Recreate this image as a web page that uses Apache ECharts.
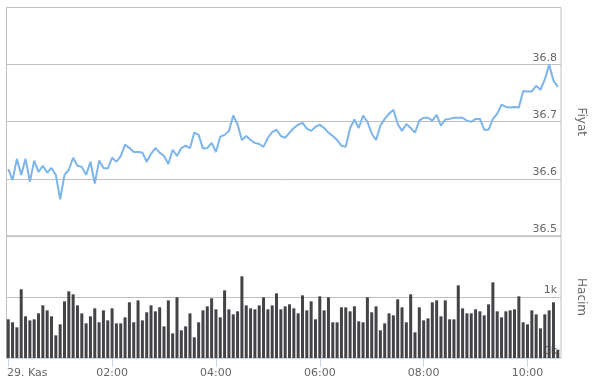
<!DOCTYPE html>
<html>
<head>
<meta charset="utf-8">
<script src="https://cdn.jsdelivr.net/npm/echarts@6/dist/echarts.min.js"></script>
<style>
html,body{margin:0;padding:0;background:#fff;}
#chart{width:595px;height:381px;}
</style>
</head>
<body>
<div id="chart"></div>
<script>
// Time stamps (29. Kas, 5-minute bars)
const times = [
"00:00","00:05","00:10","00:15","00:20","00:25","00:30","00:35","00:40","00:45","00:50","00:55",
"01:00","01:05","01:10","01:15","01:20","01:25","01:30","01:35","01:40","01:45","01:50","01:55",
"02:00","02:05","02:10","02:15","02:20","02:25","02:30","02:35","02:40","02:45","02:50","02:55",
"03:00","03:05","03:10","03:15","03:20","03:25","03:30","03:35","03:40","03:45","03:50","03:55",
"04:00","04:05","04:10","04:15","04:20","04:25","04:30","04:35","04:40","04:45","04:50","04:55",
"05:00","05:05","05:10","05:15","05:20","05:25","05:30","05:35","05:40","05:45","05:50","05:55",
"06:00","06:05","06:10","06:15","06:20","06:25","06:30","06:35","06:40","06:45","06:50","06:55",
"07:00","07:05","07:10","07:15","07:20","07:25","07:30","07:35","07:40","07:45","07:50","07:55",
"08:00","08:05","08:10","08:15","08:20","08:25","08:30","08:35","08:40","08:45","08:50","08:55",
"09:00","09:05","09:10","09:15","09:20","09:25","09:30","09:35","09:40","09:45","09:50","09:55",
"10:00","10:05","10:10","10:15","10:20","10:25","10:30","10:35"
];

// Fiyat (price)
const price = [
36.617,36.598,36.635,36.607,36.635,36.595,36.632,36.612,36.623,36.611,36.619,36.607,36.564,36.607,36.616,36.637,36.623,36.621,36.607,36.630,36.592,36.632,
36.619,36.618,36.637,36.630,36.640,36.660,36.654,36.647,36.647,36.646,36.630,36.644,36.654,36.646,36.640,36.626,36.651,36.640,36.654,36.658,36.654,36.681,
36.677,36.653,36.654,36.663,36.647,36.674,36.677,36.684,36.711,36.695,36.668,36.675,36.668,36.663,36.661,36.656,36.672,36.682,36.686,36.675,36.672,36.681,
36.689,36.695,36.698,36.688,36.684,36.691,36.695,36.689,36.681,36.675,36.668,36.658,36.656,36.689,36.704,36.689,36.711,36.700,36.679,36.668,36.693,
36.705,36.714,36.721,36.696,36.684,36.696,36.689,36.681,36.702,36.707,36.707,36.702,36.712,36.693,36.704,36.705,36.707,36.707,36.707,36.702,36.700,36.705,
36.705,36.686,36.686,36.705,36.714,36.730,36.726,36.725,36.726,36.725,36.754,36.753,36.753,36.763,36.756,36.774,36.800,36.772,36.761
];

// Hacim (volume)
const volume = [
634,585,503,1126,683,617,634,732,863,781,683,372,552,929,1093,1044,863,732,568,683,814,585,
781,617,814,568,568,667,913,585,945,617,749,863,765,831,519,945,404,995,454,519,732,339,
585,781,847,978,798,667,1109,798,716,765,1339,863,814,798,863,995,798,863,1060,798,847,880,
814,732,1027,781,929,634,1011,781,995,585,585,831,831,765,847,601,585,995,749,847,454,
568,732,699,962,831,585,1044,421,831,617,650,913,945,683,945,634,634,1191,814,732,732,798,
765,699,880,1240,765,667,765,781,798,1011,585,552,781,716,486,716,781,913,137
];

// X tick labels (hours)
const tickTimes = ["00:00","02:00","04:00","06:00","08:00","10:00"];
const dayLabel = "29. Kas";

const priceTicks = [36.5, 36.6, 36.7, 36.8, 36.9];
const volumeTicks = [0, 1000, 2000];

function toMin(t){ const p = t.split(':'); return (+p[0])*60 + (+p[1]); }

const xMin = -2, xMax = 638.7;
const tickVals = tickTimes.map(toMin);
const FONT = 'DejaVu Sans';
const LABEL_COLOR = '#666666';
const GRID_COLOR = '#C0C0C0';

const chart = echarts.init(document.getElementById('chart'), null, {renderer:'canvas'});
chart.setOption({
  animation: false,
  backgroundColor: '#ffffff',
  grid: [
    {left: 6.5, top: 7.5, width: 566, height: 228.5, show: true, borderColor: GRID_COLOR, borderWidth: 1, backgroundColor: 'transparent'},
    {left: 6.5, top: 236, width: 566, height: 122, show: true, borderColor: GRID_COLOR, borderWidth: 1, backgroundColor: 'transparent'}
  ],
  xAxis: [
    {gridIndex: 0, type: 'value', min: xMin, max: xMax, show: false, splitLine: {show: false}},
    {gridIndex: 1, type: 'value', min: xMin, max: xMax,
      axisLine: {show: true, onZero: false, lineStyle: {color: '#ccd6eb'}},
      axisTick: {show: true, customValues: tickVals, length: 9, lineStyle: {color: '#ccd6eb'}},
      splitLine: {show: false},
      axisLabel: {
        customValues: tickVals,
        margin: 10,
        fontFamily: FONT, fontSize: 11, color: LABEL_COLOR,
        formatter: function(v){
          if (v === 0) return '{f|' + dayLabel + '}';
          const h = Math.round(v/60);
          return (h < 10 ? '0' + h : '' + h) + ':00';
        },
        rich: {f: {fontFamily: FONT, fontSize: 11, color: LABEL_COLOR, padding: [0,0,0,38]}}
      }
    }
  ],
  yAxis: [
    {gridIndex: 0, type: 'value', position: 'right',
      min: priceTicks[0], max: priceTicks[priceTicks.length-1], interval: 0.1,
      axisLine: {show: false}, axisTick: {show: false},
      splitLine: {show: true, lineStyle: {color: GRID_COLOR, width: 1}},
      axisLabel: {inside: true, margin: 4, verticalAlign: 'bottom', showMaxLabel: false,
        fontFamily: FONT, fontSize: 11, color: LABEL_COLOR, padding: [0,0,1,0],
        formatter: function(v){ return v.toFixed(1); }},
      name: 'Fiyat', nameLocation: 'middle', nameRotate: -90, nameGap: 14,
      nameTextStyle: {fontFamily: FONT, fontSize: 12, color: LABEL_COLOR}
    },
    {gridIndex: 1, type: 'value', position: 'right',
      min: volumeTicks[0], max: volumeTicks[volumeTicks.length-1], interval: 1000,
      axisLine: {show: false}, axisTick: {show: false},
      splitLine: {show: true, lineStyle: {color: GRID_COLOR, width: 1}},
      axisLabel: {inside: true, margin: 4, verticalAlign: 'bottom', showMaxLabel: false,
        fontFamily: FONT, fontSize: 11, color: LABEL_COLOR, padding: [0,0,1,0],
        formatter: function(v){ return (v/1000) + 'k'; }},
      name: 'Hacim', nameLocation: 'middle', nameRotate: -90, nameGap: 14,
      nameTextStyle: {fontFamily: FONT, fontSize: 12, color: LABEL_COLOR}
    }
  ],
  series: [
    {type: 'line', name: 'Fiyat', xAxisIndex: 0, yAxisIndex: 0,
      data: times.map(function(t,i){ return [toMin(t), price[i]]; }),
      showSymbol: false, symbol: 'none',
      lineStyle: {color: '#7cb5ec', width: 2}, itemStyle: {color: '#7cb5ec'}, z: 5},
    {type: 'bar', name: 'Hacim', xAxisIndex: 1, yAxisIndex: 1,
      data: times.map(function(t,i){ return [toMin(t), volume[i]]; }),
      barWidth: 3, itemStyle: {color: '#434348'}, z: 3}
  ]
});
</script>
</body>
</html>
